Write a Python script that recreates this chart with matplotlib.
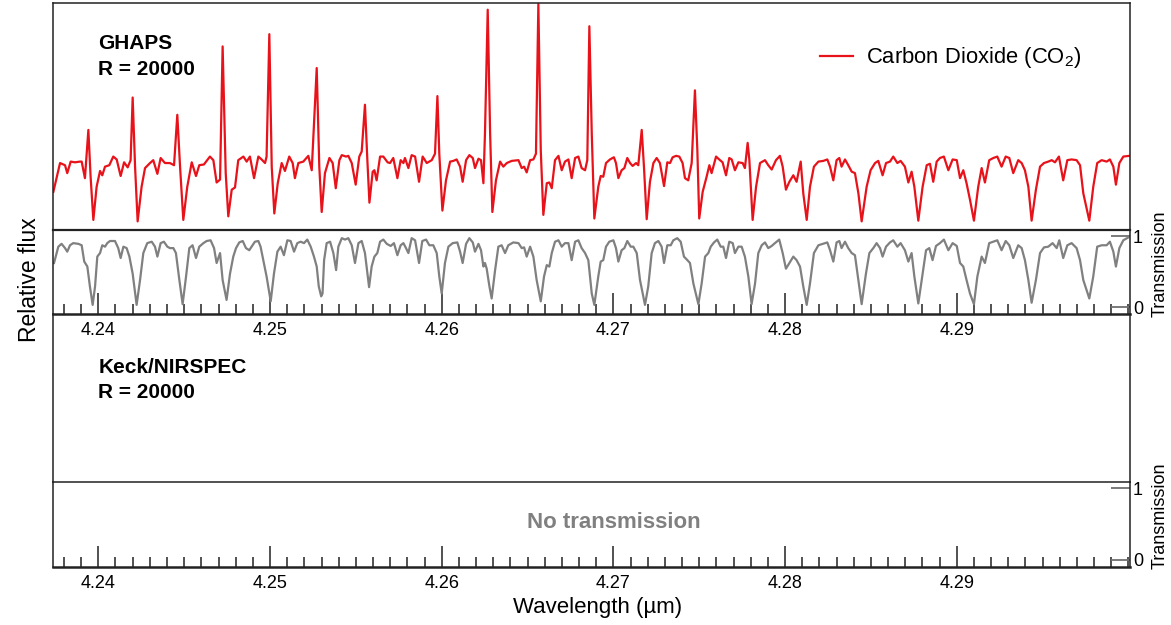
import matplotlib
matplotlib.use('Agg')
import matplotlib.pyplot as plt
from matplotlib.ticker import MultipleLocator, FixedLocator, FixedFormatter

plt.rcParams['font.family'] = ['Liberation Sans', 'DejaVu Sans']
plt.rcParams['mathtext.fontset'] = 'custom'
plt.rcParams['mathtext.rm'] = 'Liberation Sans'

# ---------------- data ----------------
co2_wavelength = [
    4.23738, 4.23777, 4.23806, 4.23819, 4.23839, 4.23864, 4.23893, 4.23903, 4.23922, 4.23942,
    4.23955, 4.23971, 4.23990, 4.24010, 4.24023, 4.24039, 4.24064, 4.24087, 4.24107, 4.24130,
    4.24150, 4.24171, 4.24188, 4.24200, 4.24214, 4.24229, 4.24252, 4.24272, 4.24301, 4.24320,
    4.24344, 4.24363, 4.24388, 4.24417, 4.24441, 4.24460, 4.24476, 4.24495, 4.24518, 4.24544,
    4.24569, 4.24588, 4.24615, 4.24650, 4.24670, 4.24689, 4.24709, 4.24724, 4.24742, 4.24757,
    4.24777, 4.24796, 4.24815, 4.24845, 4.24864, 4.24883, 4.24907, 4.24932, 4.24951, 4.24971,
    4.24980, 4.24996, 4.25010, 4.25025, 4.25045, 4.25068, 4.25087, 4.25112, 4.25132, 4.25145,
    4.25165, 4.25194, 4.25223, 4.25243, 4.25272, 4.25287, 4.25301,
    4.25320, 4.25346, 4.25365, 4.25383, 4.25404, 4.25418, 4.25443, 4.25456, 4.25476, 4.25499,
    4.25520, 4.25534, 4.25553, 4.25567, 4.25579, 4.25598, 4.25608, 4.25621, 4.25641, 4.25660,
    4.25685, 4.25699, 4.25718, 4.25742, 4.25761, 4.25777, 4.25786, 4.25806, 4.25825, 4.25845,
    4.25868, 4.25889, 4.25913, 4.25942, 4.25961, 4.25975, 4.25986, 4.26004, 4.26025, 4.26049,
    4.26068, 4.26087, 4.26107, 4.26122, 4.26142, 4.26161, 4.26181, 4.26194, 4.26214, 4.26229,
    4.26243, 4.26252, 4.26268, 4.26282, 4.26295, 4.26316, 4.26340, 4.26359, 4.26379, 4.26408,
    4.26447, 4.26466, 4.26480, 4.26495, 4.26515, 4.26534, 4.26549, 4.26563, 4.26577, 4.26592,
    4.26612, 4.26627, 4.26641, 4.26660, 4.26680, 4.26699, 4.26718, 4.26738, 4.26757, 4.26777,
    4.26796, 4.26815, 4.26835, 4.26848, 4.26860, 4.26874, 4.26889,
    4.26912, 4.26926, 4.26941, 4.26957, 4.26980, 4.27003, 4.27015, 4.27029, 4.27048, 4.27064,
    4.27081, 4.27097, 4.27112, 4.27132, 4.27145, 4.27165, 4.27178, 4.27194, 4.27213, 4.27233,
    4.27252, 4.27271, 4.27295, 4.27314, 4.27330, 4.27345, 4.27365, 4.27384, 4.27403, 4.27417,
    4.27436, 4.27456, 4.27475, 4.27489, 4.27500, 4.27520, 4.27543, 4.27559, 4.27572, 4.27598,
    4.27621, 4.27636, 4.27656, 4.27675, 4.27689, 4.27708, 4.27728, 4.27753, 4.27766, 4.27782,
    4.27792, 4.27811, 4.27831, 4.27854, 4.27883, 4.27902, 4.27922, 4.27947, 4.27970, 4.27986,
    4.28005, 4.28025, 4.28048, 4.28067, 4.28091, 4.28106, 4.28126, 4.28145, 4.28168, 4.28194,
    4.28223, 4.28246, 4.28262, 4.28281, 4.28300, 4.28316, 4.28329, 4.28349, 4.28368, 4.28388,
    4.28407, 4.28427, 4.28446,
    4.28475, 4.28498, 4.28524, 4.28543, 4.28568, 4.28588, 4.28611, 4.28630, 4.28654, 4.28673,
    4.28698, 4.28718, 4.28737, 4.28753, 4.28776, 4.28801, 4.28825, 4.28844, 4.28863, 4.28883,
    4.28902, 4.28925, 4.28951, 4.28976, 4.29000, 4.29019, 4.29038, 4.29057, 4.29077, 4.29100,
    4.29125, 4.29145, 4.29164, 4.29189, 4.29213, 4.29236, 4.29261, 4.29285, 4.29306, 4.29329,
    4.29358, 4.29378, 4.29397, 4.29417, 4.29436, 4.29461, 4.29485, 4.29508, 4.29533, 4.29553,
    4.29572, 4.29595, 4.29620, 4.29644, 4.29669, 4.29698, 4.29718, 4.29737, 4.29772, 4.29795,
    4.29818, 4.29844, 4.29873, 4.29892, 4.29912, 4.29927, 4.29947, 4.29970, 4.30005,
]
co2_flux = [
    0.53, 0.93, 0.90, 0.79, 0.95, 0.94, 0.95, 0.95, 0.72, 1.39,
    0.74, 0.14, 0.60, 0.82, 0.76, 0.88, 0.90, 1.02, 0.98, 0.75,
    0.94, 0.87, 0.97, 1.84, 0.88, 0.12, 0.60, 0.86, 0.93, 0.97,
    0.78, 1.00, 0.93, 0.93, 0.90, 1.60, 0.88, 0.14, 0.60, 0.94,
    0.75, 0.90, 0.91, 1.02, 0.97, 0.66, 0.70, 2.55, 0.79, 0.19,
    0.56, 0.59, 0.97, 1.02, 0.95, 1.02, 0.72, 1.02, 0.98, 0.93,
    1.02, 2.72, 0.88, 0.23, 0.65, 0.93, 0.82, 1.02, 0.93, 0.72,
    0.93, 0.95, 1.03, 0.83, 2.25, 0.88, 0.25,
    0.79, 1.00, 0.93, 0.58, 0.97, 1.04, 1.02, 1.03, 0.93, 0.63,
    1.02, 1.09, 1.74, 0.97, 0.38, 0.81, 0.83, 0.69, 1.02, 1.02,
    0.94, 0.93, 1.00, 0.72, 0.97, 0.93, 1.00, 0.86, 1.04, 1.02,
    0.67, 1.02, 0.93, 0.97, 1.06, 1.86, 1.06, 0.27, 0.69, 0.95,
    0.96, 0.98, 0.88, 0.67, 0.97, 1.04, 1.00, 0.86, 0.99, 0.97,
    0.65, 1.34, 3.06, 1.34, 0.25, 0.69, 0.95, 0.88, 0.93, 0.96,
    0.97, 0.86, 0.88, 0.80, 0.97, 0.98, 1.06, 3.14, 1.11, 0.21,
    0.65, 0.66, 0.58, 0.97, 1.03, 0.83, 0.95, 0.98, 0.72, 1.00,
    1.02, 0.86, 0.83, 0.97, 2.83, 1.34, 0.16,
    0.60, 0.75, 0.74, 0.93, 0.98, 1.01, 0.93, 0.72, 0.83, 0.86,
    1.00, 0.93, 0.89, 0.93, 0.90, 1.39, 0.88, 0.15, 0.67, 0.93,
    1.00, 0.93, 0.61, 0.94, 0.93, 1.01, 1.03, 1.02, 0.93, 0.72,
    0.69, 0.93, 1.94, 1.11, 0.16, 0.53, 0.74, 0.90, 0.79, 1.02,
    0.97, 0.94, 0.76, 1.00, 0.98, 0.83, 0.94, 0.93, 0.86, 1.21,
    0.97, 0.14, 0.60, 0.93, 0.97, 0.90, 0.84, 0.97, 1.03, 0.88,
    0.56, 0.67, 0.76, 0.67, 0.95, 0.51, 0.14, 0.60, 0.88, 0.95,
    0.96, 0.98, 0.88, 0.69, 0.97, 1.00, 0.88, 0.98, 0.90, 0.81,
    0.79, 0.51, 0.12,
    0.60, 0.83, 0.93, 0.96, 0.76, 0.93, 0.95, 1.02, 0.93, 0.96,
    0.88, 0.66, 0.81, 0.60, 0.13, 0.60, 0.90, 0.92, 0.67, 0.95,
    1.00, 1.02, 0.83, 0.98, 0.97, 0.72, 0.83, 0.65, 0.42, 0.13,
    0.60, 0.86, 0.66, 0.97, 1.00, 1.02, 0.88, 1.02, 1.00, 0.79,
    0.97, 0.93, 0.83, 0.60, 0.13, 0.56, 0.88, 0.93, 0.95, 0.97,
    0.94, 1.02, 0.69, 0.97, 0.98, 0.97, 0.90, 0.51, 0.13, 0.60,
    0.93, 0.97, 0.95, 0.98, 0.88, 0.63, 0.93, 1.02, 1.03,
]

trans_wavelength = [
    4.23742, 4.23767, 4.23786, 4.23806, 4.23819, 4.23835, 4.23854, 4.23884, 4.23903, 4.23918,
    4.23936, 4.23951, 4.23967, 4.23981, 4.23994, 4.24010, 4.24023, 4.24039, 4.24052, 4.24068,
    4.24097, 4.24116, 4.24130, 4.24146, 4.24165, 4.24181, 4.24200, 4.24223, 4.24243, 4.24262,
    4.24285, 4.24311, 4.24330, 4.24344, 4.24363, 4.24382, 4.24402, 4.24417, 4.24437, 4.24452,
    4.24472, 4.24491, 4.24511, 4.24530, 4.24549, 4.24569, 4.24588, 4.24612, 4.24631, 4.24654,
    4.24674, 4.24689, 4.24709, 4.24724, 4.24747, 4.24767, 4.24786, 4.24802, 4.24821, 4.24841,
    4.24860, 4.24879, 4.24893, 4.24912, 4.24932, 4.24945, 4.24961, 4.24980, 4.25004, 4.25023,
    4.25043, 4.25062, 4.25081, 4.25101, 4.25120, 4.25140, 4.25159, 4.25178, 4.25198, 4.25217,
    4.25237, 4.25256, 4.25272, 4.25284, 4.25298, 4.25306, 4.25315, 4.25330, 4.25350, 4.25369,
    4.25385, 4.25398, 4.25418, 4.25437, 4.25456, 4.25476, 4.25495, 4.25515, 4.25534, 4.25553,
    4.25577, 4.25592, 4.25608, 4.25625, 4.25641, 4.25660, 4.25680, 4.25703, 4.25722, 4.25742,
    4.25761, 4.25777, 4.25792, 4.25806, 4.25825, 4.25845, 4.25868, 4.25887, 4.25909, 4.25928,
    4.25951, 4.25971, 4.25986, 4.26000, 4.26019, 4.26039, 4.26064, 4.26091, 4.26107, 4.26122,
    4.26142, 4.26161, 4.26181, 4.26194, 4.26214, 4.26229, 4.26243, 4.26252, 4.26262, 4.26278,
    4.26291, 4.26311, 4.26330, 4.26349, 4.26369, 4.26388, 4.26417, 4.26447, 4.26466, 4.26480,
    4.26495, 4.26515, 4.26534, 4.26553, 4.26577, 4.26596, 4.26612, 4.26627, 4.26641, 4.26660,
    4.26680, 4.26699, 4.26718, 4.26738, 4.26757, 4.26777, 4.26796, 4.26815, 4.26835, 4.26854,
    4.26874, 4.26889, 4.26912, 4.26926, 4.26941, 4.26957, 4.26976, 4.27000, 4.27015, 4.27029,
    4.27048, 4.27064, 4.27081, 4.27101, 4.27116, 4.27136, 4.27155, 4.27184, 4.27203, 4.27223,
    4.27242, 4.27262, 4.27281, 4.27295, 4.27314, 4.27334, 4.27349, 4.27372, 4.27392, 4.27411,
    4.27431, 4.27446, 4.27466, 4.27495, 4.27514, 4.27534, 4.27553, 4.27567, 4.27586, 4.27605,
    4.27625, 4.27640, 4.27656, 4.27675, 4.27695, 4.27708, 4.27728, 4.27747, 4.27766, 4.27786,
    4.27805, 4.27825, 4.27844, 4.27864, 4.27883, 4.27902, 4.27922, 4.27941, 4.27966, 4.27986,
    4.28005, 4.28025, 4.28048, 4.28067, 4.28087, 4.28106, 4.28126, 4.28145, 4.28168, 4.28194,
    4.28219, 4.28246, 4.28262, 4.28281, 4.28300, 4.28316, 4.28329, 4.28349, 4.28368, 4.28388,
    4.28407, 4.28427, 4.28446, 4.28471, 4.28491, 4.28514, 4.28533, 4.28553, 4.28568, 4.28588,
    4.28611, 4.28630, 4.28654, 4.28673, 4.28698, 4.28718, 4.28737, 4.28753, 4.28776, 4.28801,
    4.28821, 4.28840, 4.28859, 4.28879, 4.28902, 4.28925, 4.28951, 4.28976, 4.29000, 4.29019,
    4.29038, 4.29057, 4.29077, 4.29100, 4.29120, 4.29145, 4.29164, 4.29189, 4.29213, 4.29236,
    4.29261, 4.29285, 4.29306, 4.29329, 4.29358, 4.29378, 4.29397, 4.29417, 4.29436, 4.29461,
    4.29485, 4.29508, 4.29533, 4.29558, 4.29582, 4.29597, 4.29620, 4.29644, 4.29669, 4.29698,
    4.29718, 4.29737, 4.29772, 4.29795, 4.29818, 4.29844, 4.29873, 4.29892, 4.29912, 4.29927,
    4.29947, 4.29970, 4.29999,
]
transmission = [
    0.62, 0.85, 0.89, 0.83, 0.78, 0.87, 0.90, 0.89, 0.87, 0.64,
    0.57, 0.29, 0.03, 0.29, 0.71, 0.76, 0.87, 0.85, 0.90, 0.93,
    0.93, 0.83, 0.69, 0.85, 0.83, 0.71, 0.47, 0.03, 0.38, 0.76,
    0.90, 0.92, 0.85, 0.71, 0.90, 0.92, 0.85, 0.83, 0.83, 0.76,
    0.38, 0.04, 0.43, 0.83, 0.87, 0.69, 0.85, 0.90, 0.93, 0.94,
    0.83, 0.62, 0.76, 0.38, 0.10, 0.47, 0.71, 0.83, 0.91, 0.93,
    0.83, 0.80, 0.85, 0.92, 0.93, 0.85, 0.66, 0.43, 0.08, 0.47,
    0.78, 0.85, 0.73, 0.94, 0.93, 0.78, 0.90, 0.92, 0.90, 0.95,
    0.85, 0.71, 0.57, 0.29, 0.15, 0.19, 0.66, 0.90, 0.92, 0.76,
    0.52, 0.85, 0.97, 0.95, 0.97, 0.87, 0.62, 0.90, 0.93, 0.76,
    0.28, 0.57, 0.71, 0.76, 0.92, 0.95, 0.89, 0.86, 0.90, 0.73,
    0.87, 0.90, 0.83, 0.76, 0.97, 0.94, 0.62, 0.93, 0.95, 0.87,
    0.87, 0.76, 0.43, 0.19, 0.62, 0.85, 0.90, 0.91, 0.78, 0.62,
    0.89, 0.97, 0.91, 0.78, 0.89, 0.80, 0.57, 0.62, 0.54, 0.29,
    0.12, 0.52, 0.85, 0.87, 0.76, 0.87, 0.91, 0.90, 0.83, 0.84,
    0.71, 0.85, 0.71, 0.38, 0.08, 0.43, 0.59, 0.57, 0.76, 0.92,
    0.94, 0.85, 0.90, 0.90, 0.66, 0.92, 0.94, 0.83, 0.76, 0.66,
    0.19, 0.03, 0.43, 0.64, 0.66, 0.85, 0.92, 0.94, 0.83, 0.64,
    0.80, 0.83, 0.93, 0.85, 0.85, 0.76, 0.38, 0.03, 0.29, 0.76,
    0.90, 0.93, 0.85, 0.62, 0.87, 0.87, 0.94, 0.97, 0.92, 0.71,
    0.66, 0.62, 0.33, 0.04, 0.33, 0.71, 0.76, 0.85, 0.91, 0.95,
    0.85, 0.85, 0.69, 0.92, 0.90, 0.76, 0.85, 0.85, 0.71, 0.43,
    0.04, 0.33, 0.76, 0.87, 0.91, 0.83, 0.86, 0.90, 0.95, 0.76,
    0.54, 0.62, 0.71, 0.66, 0.57, 0.29, 0.03, 0.33, 0.76, 0.87,
    0.89, 0.91, 0.80, 0.64, 0.91, 0.93, 0.83, 0.92, 0.83, 0.76,
    0.73, 0.38, 0.04, 0.47, 0.76, 0.83, 0.90, 0.83, 0.71, 0.85,
    0.91, 0.94, 0.85, 0.90, 0.80, 0.64, 0.76, 0.43, 0.05, 0.47,
    0.80, 0.83, 0.66, 0.86, 0.90, 0.95, 0.80, 0.90, 0.86, 0.62,
    0.57, 0.38, 0.19, 0.04, 0.43, 0.71, 0.62, 0.90, 0.92, 0.94,
    0.80, 0.93, 0.87, 0.69, 0.87, 0.83, 0.66, 0.38, 0.06, 0.38,
    0.76, 0.84, 0.85, 0.90, 0.83, 0.94, 0.69, 0.87, 0.90, 0.83,
    0.66, 0.38, 0.12, 0.43, 0.85, 0.87, 0.87, 0.92, 0.78, 0.57,
    0.83, 0.94, 0.98,
]

wavelength_ticks = [4.24, 4.25, 4.26, 4.27, 4.28, 4.29]
wavelength_tick_labels = ['4.24', '4.25', '4.26', '4.27', '4.28', '4.29']
transmission_ticks = [0, 1]
transmission_tick_labels = ['0', '1']
wavelength_range = (4.23736, 4.30009)
flux_range = (0.0, 3.153)
transmission_range = (-0.0986, 1.085)

RED = '#e8121a'
GRAY = '#808080'
SPINE = '#222222'

# ---------------- layout ----------------
fig = plt.figure(figsize=(11.71, 6.25), dpi=100)
FW, FH = 1171.0, 625.0
LEFT, RIGHT = 53, 1130


def add_panel(top, bottom):
    return fig.add_axes([LEFT / FW, 1 - bottom / FH, (RIGHT - LEFT) / FW, (bottom - top) / FH])


ax_top = add_panel(3, 230)
ax_t1 = add_panel(230, 314)
ax_keck = add_panel(314, 482)
ax_t2 = add_panel(482, 567)

for ax in (ax_top, ax_t1, ax_keck, ax_t2):
    ax.set_xlim(*wavelength_range)
    ax.patch.set_alpha(0)
    for s in ax.spines.values():
        s.set_color(SPINE)
        s.set_linewidth(1.1)

# --- top spectrum panel ---
ax_top.plot(co2_wavelength, co2_flux, color=RED, lw=1.6, solid_joinstyle='round',
            label='Carbon Dioxide (CO$_{\\mathrm{2}}$)')
ax_top.set_ylim(*flux_range)
ax_top.set_xticks([])
ax_top.set_yticks([])
ax_top.spines['bottom'].set_linewidth(1.6)
ax_top.text(0.042, 0.796, 'GHAPS', transform=ax_top.transAxes, fontsize=15,
            fontweight='bold', va='baseline', ha='left')
ax_top.text(0.042, 0.683, 'R = 20000', transform=ax_top.transAxes, fontsize=15,
            fontweight='bold', va='baseline', ha='left')
ax_top.legend(loc='center left', bbox_to_anchor=((820 - LEFT) / (RIGHT - LEFT), 1 - (58 - 3) / 227),
              frameon=False, borderpad=0, borderaxespad=0, fontsize=15.8,
              handlelength=1.5, handletextpad=0.6)

# --- Keck panel ---
ax_keck.set_xticks([])
ax_keck.set_yticks([])
ax_keck.spines['top'].set_visible(False)
ax_keck.text(0.042, 0.649, 'Keck/NIRSPEC', transform=ax_keck.transAxes, fontsize=15,
             fontweight='bold', va='baseline', ha='left')
ax_keck.text(0.042, 0.50, 'R = 20000', transform=ax_keck.transAxes, fontsize=15,
             fontweight='bold', va='baseline', ha='left')


def style_transmission(ax):
    ax.set_ylim(*transmission_range)
    ax.spines['top'].set_visible(False)
    ax.spines['bottom'].set_linewidth(1.8)
    ax.xaxis.set_major_locator(FixedLocator(wavelength_ticks))
    ax.xaxis.set_major_formatter(FixedFormatter(wavelength_tick_labels))
    ax.xaxis.set_minor_locator(MultipleLocator(0.001))
    ax.tick_params(axis='x', which='major', direction='in', length=15, width=1.1,
                   color='#222222', labelsize=13, pad=6)
    ax.tick_params(axis='x', which='minor', direction='in', length=7.5, width=1.1,
                   color='#222222')
    ax.yaxis.tick_right()
    ax.yaxis.set_major_locator(FixedLocator(transmission_ticks))
    ax.yaxis.set_major_formatter(FixedFormatter(transmission_tick_labels))
    ax.tick_params(axis='y', which='major', direction='in', length=14, width=1.3,
                   color='#707070', labelsize=13, pad=2)
    ax.yaxis.set_label_position('right')
    ax.set_ylabel('Transmission', fontsize=13)
    ax.yaxis.set_label_coords(1.0205, 0.6)


style_transmission(ax_t1)
style_transmission(ax_t2)

ax_t1.plot(trans_wavelength, transmission, color=GRAY, lw=1.6, solid_joinstyle='round')

ax_t2.text(4.27, 0.52, 'No transmission', fontsize=16, fontweight='bold',
           color=GRAY, ha='center', va='center')

ax_t2.set_xlabel('Wavelength (µm)', fontsize=16)
ax_t2.xaxis.label.set_va('center')
ax_t2.xaxis.set_label_coords((598 - LEFT) / (RIGHT - LEFT), (567 - 607) / 85)

fig.text(30 / FW, 1 - 280 / FH, 'Relative flux', rotation=90, fontsize=16.5,
         ha='center', va='center')

fig.savefig('out.png', dpi=100)
